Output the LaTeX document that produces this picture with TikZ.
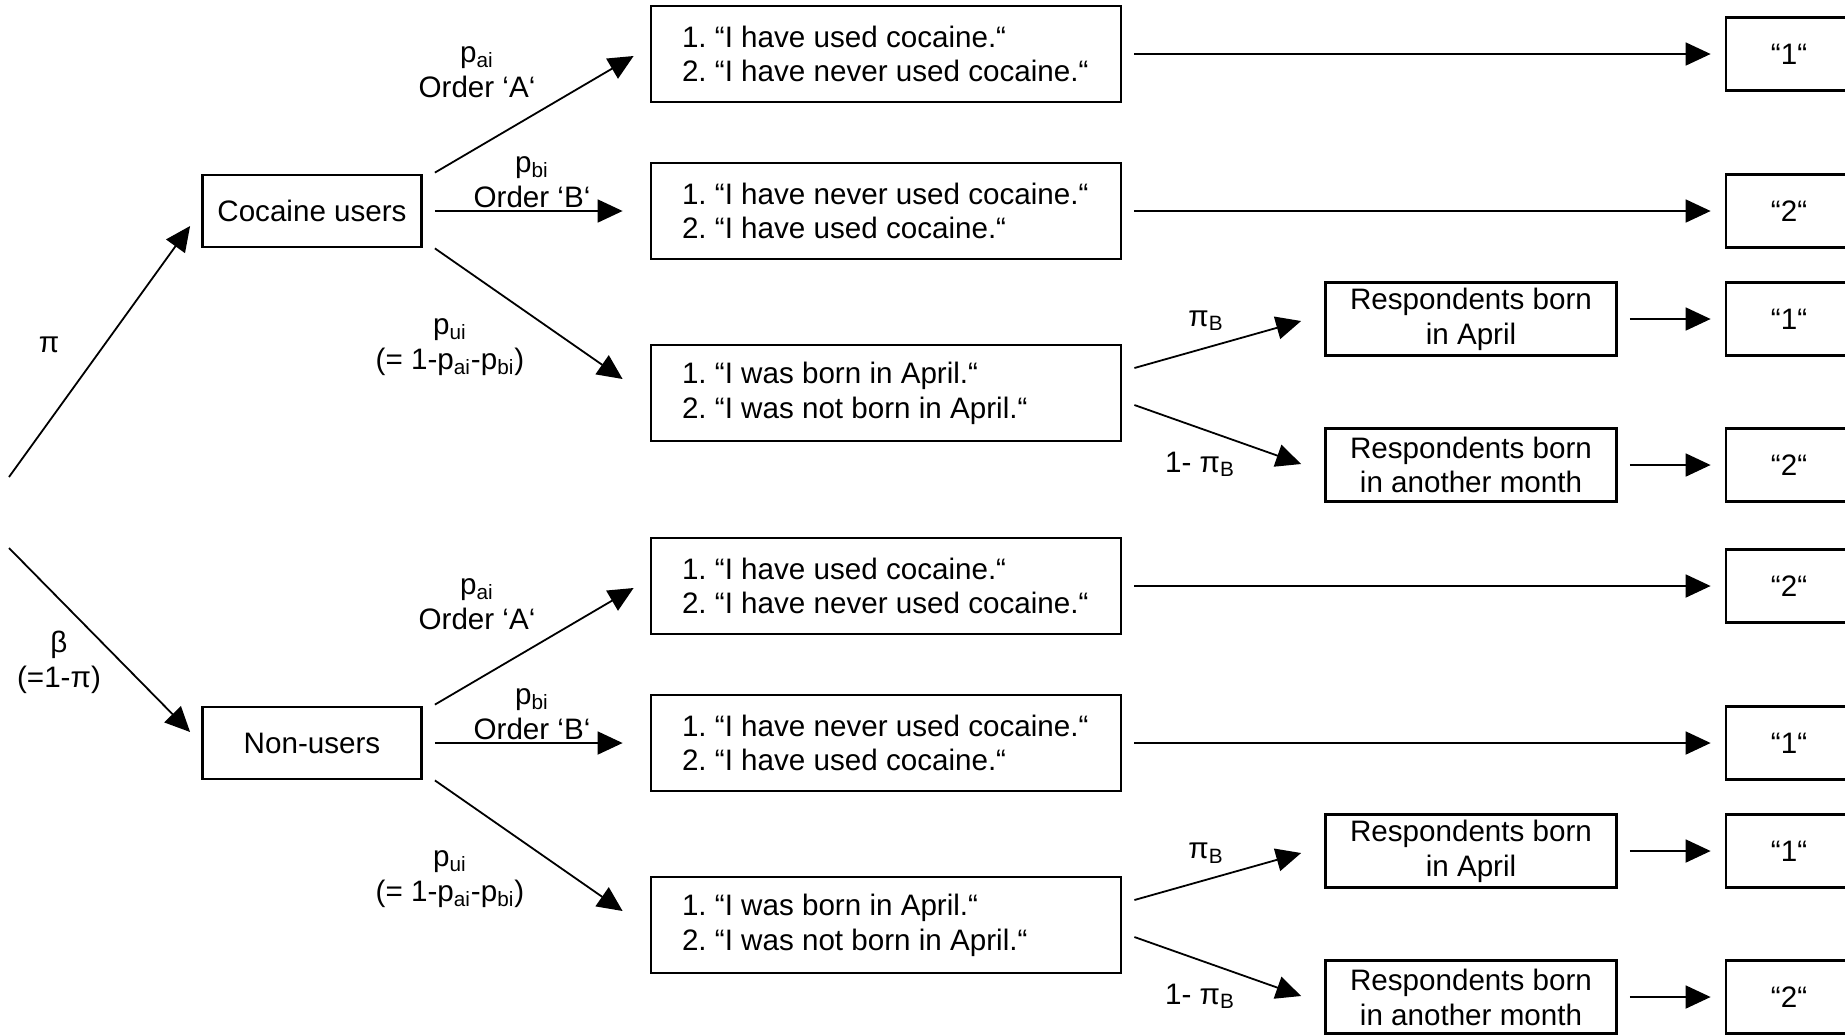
\documentclass[tikz,border=0pt]{standalone}
\usepackage{fontspec}
\setmainfont{Liberation Sans}
\usetikzlibrary{arrows.meta}
\begin{document}
\frenchspacing
\begin{tikzpicture}[x=0.5pt,y=-0.5pt,
  box/.style={draw, line width=1.4pt, inner sep=0pt,
    font=\fontsize{14.8}{17.4}\selectfont, align=center},
  group/.style={box, minimum width=109.5pt, minimum height=36pt},
  stmt/.style={box, minimum width=235pt, minimum height=48pt,
    text width=204pt, inner xsep=15.5pt, align=flush left},
  resp/.style={box, minimum width=145.5pt, minimum height=36.5pt},
  outbox/.style={box, minimum width=63pt, minimum height=36.5pt},
  arr/.style={-{Triangle[length=12.5pt,width=11.5pt]}, line width=0.9pt},
  lbl/.style={font=\fontsize{14.8}{17.5}\selectfont, align=center, inner sep=0pt}
]
\clip (0,0) rectangle (1845,1035);
\fill[white] (0,0) rectangle (1845,1035);

% root branches
\coordinate (root1) at (9,477);
\coordinate (root2) at (9,548);
\node[group] (g1) at (312,211) {Cocaine users};
\node[group] (g2) at (312,743) {Non-users};
\draw[arr] (root1) -- ([shift={(-11,15)}]g1.west);
\draw[arr] (root2) -- ([shift={(-11,-11)}]g2.west);
\node[lbl] (lpi) at (49,345) {π};
\node[lbl] (lbeta) at (59,662) {β\\(=1-π)};

% the two subtrees (users / non-users)
\foreach \g/\dy/\oa/\ob in {1/0/1/2, 2/532/2/1} {
  \node[stmt] (a\g) at (886,54+\dy) {\mbox{1. “I have used cocaine.“}\\\mbox{2. “I have never used cocaine.“}};
  \node[stmt] (b\g) at (886,211+\dy) {\mbox{1. “I have never used cocaine.“}\\\mbox{2. “I have used cocaine.“}};
  \node[stmt] (u\g) at (886,393+\dy) {\mbox{1. “I was born in April.“}\\\mbox{2. “I was not born in April.“}};
  \node[resp] (ra\g) at (1471,319+\dy) {Respondents born\\in April};
  \node[resp] (rm\g) at (1471,465+\dy) {Respondents born\\in another month};
  \node[outbox] (oa\g) at (1789,54+\dy) {“\oa“};
  \node[outbox] (ob\g) at (1789,211+\dy) {“\ob“};
  \node[outbox] (ora\g) at (1789,319+\dy) {“1“};
  \node[outbox] (orm\g) at (1789,465+\dy) {“2“};

  \draw[arr] ([shift={(12,-1)}]g\g.north east) -- ([shift={(-16,2)}]a\g.west);
  \draw[arr] ([shift={(12,0)}]g\g.east) -- ([shift={(-27,0)}]b\g.west);
  \draw[arr] ([shift={(12,0)}]g\g.south east) -- ([shift={(-27,-14)}]u\g.west);

  \node[lbl] (la\g) at (477,72+\dy) {p\textsubscript{ai}\\Order ‘A‘};
  \node[lbl] (lb\g) at (532,182+\dy) {p\textsubscript{bi}\\Order ‘B‘};
  \node[lbl] (lu\g) at (450,347+\dy) {p\textsubscript{ui}\\(= 1-p\textsubscript{ai}-p\textsubscript{bi})};

  \draw[arr] ([shift={(12,0)}]a\g.east) -- ([shift={(-14,0)}]oa\g.west);
  \draw[arr] ([shift={(12,0)}]b\g.east) -- ([shift={(-14,0)}]ob\g.west);
  \draw[arr] ([shift={(12,-25)}]u\g.east) -- ([shift={(-23,2)}]ra\g.west);
  \draw[arr] ([shift={(12,12)}]u\g.east) -- ([shift={(-23,-1)}]rm\g.west);
  \node[lbl] (lpb\g) at (1206,321+\dy) {π\textsubscript{B}};
  \node[lbl] (lqb\g) at (1200,464+\dy) {1- π\textsubscript{B}};

  \draw[arr] ([shift={(12,0)}]ra\g.east) -- ([shift={(-14,0)}]ora\g.west);
  \draw[arr] ([shift={(12,0)}]rm\g.east) -- ([shift={(-14,0)}]orm\g.west);
}
\end{tikzpicture}
\end{document}
